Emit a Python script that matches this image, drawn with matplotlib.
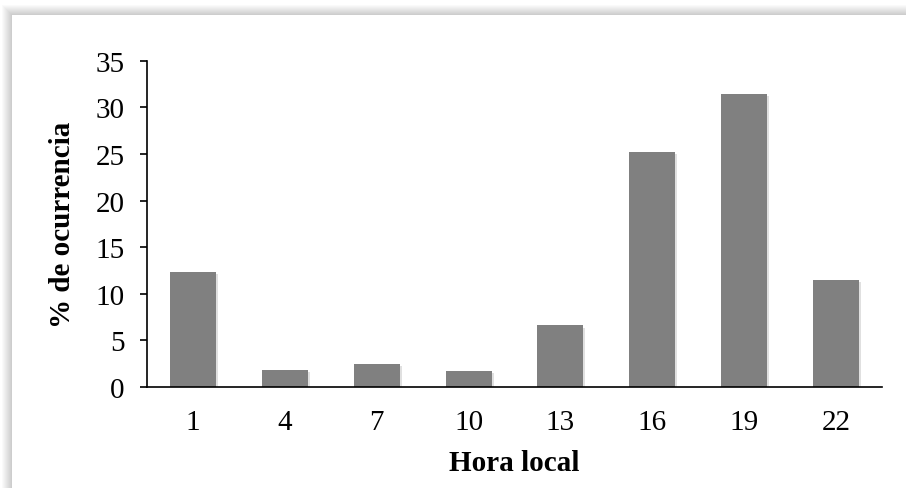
import numpy as np
import matplotlib.pyplot as plt
from matplotlib.patches import Rectangle
import matplotlib.patheffects as pe

horas = ['1', '4', '7', '10', '13', '16', '19', '22']
ocurrencia = [12.3, 1.8, 2.5, 1.7, 6.6, 25.2, 31.4, 11.5]

plt.rcParams['font.family'] = ['Liberation Serif', 'DejaVu Serif']

fig = plt.figure(figsize=(9.06, 4.89), dpi=100)
fig.patch.set_facecolor('white')

# marco con sombra
W, H = 906, 489
x0, y0 = 12, 16
for i in range(10, 0, -1):
    fig.patches.append(Rectangle(((x0 - i) / W, 0), 1, (H - y0 + i) / H,
                                 transform=fig.transFigure, facecolor='black',
                                 alpha=0.018, edgecolor='none', zorder=-2))
fig.patches.append(Rectangle((x0 / W, 0), 1, (H - y0) / H, transform=fig.transFigure,
                             facecolor='white', edgecolor='none', zorder=-1))

ax = fig.add_axes([147 / W, 1 - 388 / H, (882 - 147) / W, (388 - 61.7) / H])
ax.set_facecolor('none')

x = np.arange(len(horas))
bars = ax.bar(x, ocurrencia, width=0.5, color='#808080', zorder=2)
for b in bars:
    b.set_path_effects([pe.SimplePatchShadow(offset=(1.5, -1.5), shadow_rgbFace='black', alpha=0.12),
                        pe.Normal()])

ax.set_xlim(-0.5, len(horas) - 0.5)
ax.set_ylim(0, 35)
ax.set_yticks(np.arange(0, 36, 5))
ax.set_xticks(x)
ax.set_xticklabels(horas)

for s in ['top', 'right']:
    ax.spines[s].set_visible(False)
ax.spines['left'].set_linewidth(1.2)
ax.spines['bottom'].set_linewidth(1.2)
ax.spines['bottom'].set_zorder(3)

fs = 21
ax.tick_params(axis='y', direction='out', length=5, width=1.2, pad=11, labelsize=fs)
ax.tick_params(axis='x', length=0, pad=16, labelsize=fs)

ax.set_xlabel('Hora local', fontsize=fs, fontweight='bold', labelpad=10)
ax.set_ylabel('% de ocurrencia', fontsize=fs, fontweight='bold', labelpad=14)

fig.savefig('out.png', dpi=100, facecolor=fig.get_facecolor())
